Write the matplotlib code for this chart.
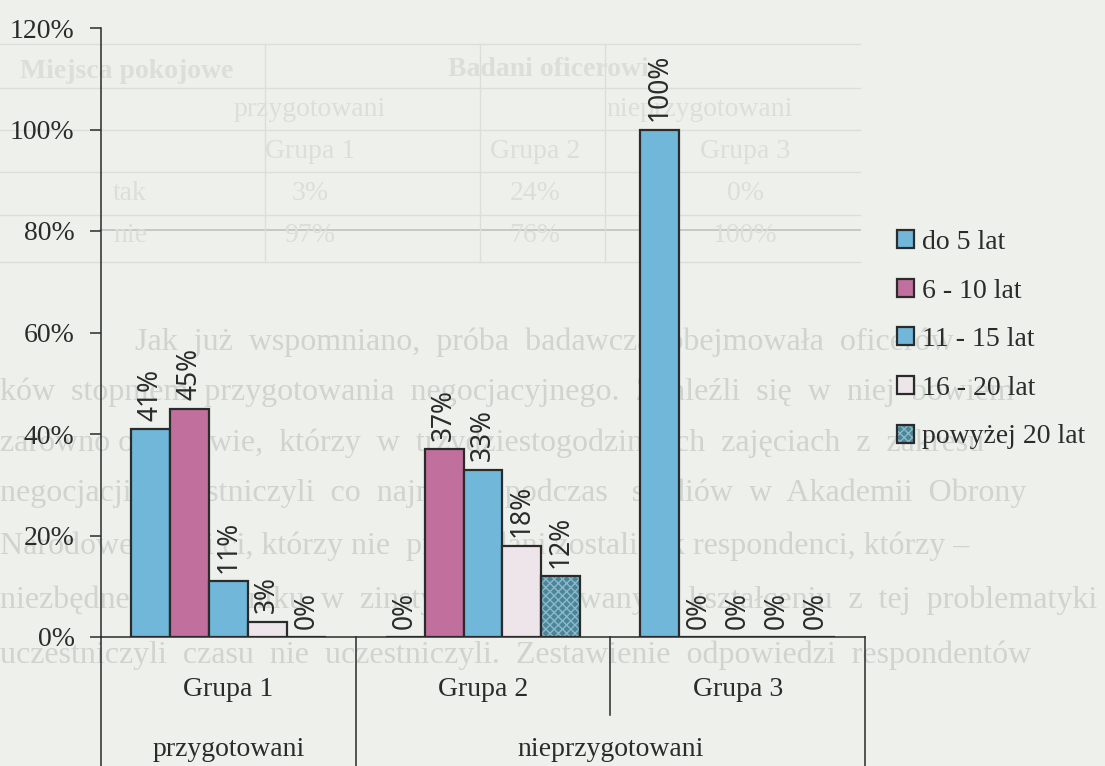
import matplotlib
matplotlib.use("Agg")
import matplotlib.pyplot as plt
import matplotlib.colors as mcolors
import numpy as np

# ---- data ----
groups = ["Grupa 1", "Grupa 2", "Grupa 3"]
supergroups = ["przygotowani", "nieprzygotowani"]
series = ["do 5 lat", "6 - 10 lat", "11 - 15 lat", "16 - 20 lat", "powyżej 20 lat"]
do_5 = [41, 0, 100]
lat_6_10 = [45, 37, 0]
lat_11_15 = [11, 33, 0]
lat_16_20 = [3, 18, 0]
pow_20 = [0, 12, 0]
yticks = [0, 20, 40, 60, 80, 100, 120]

values = [do_5, lat_6_10, lat_11_15, lat_16_20, pow_20]
colors = ["#70b7da", "#c1709e", "#70b7da", "#ede5e9", "#4a869b"]
HATCH_COLOR = "#8fb8c6"

BG = "#eef1eb"
GHOST = "#d0d4ce"
GHOST_LIGHT = "#dbdfd8"
INK = "#2b2b2b"
SERIF = "Liberation Serif"
SANS = "Noto Sans"

W, H = 1105, 766
fig = plt.figure(figsize=(W / 100, H / 100), dpi=100)
fig.patch.set_facecolor(BG)


def fx(x):
    return x / W


def fy(y):
    return 1 - y / H


# ---- faint show-through of the printed page underneath ----
tbl_kw = dict(color=GHOST_LIGHT, family=SERIF, zorder=-5, fontsize=20, va="center")
fig.text(fx(20), fy(72), "Miejsca pokojowe", weight="bold", **tbl_kw)
fig.text(fx(555), fy(70), "Badani oficerowie", weight="bold", ha="center", **tbl_kw)
fig.text(fx(310), fy(110), "przygotowani", ha="center", **tbl_kw)
fig.text(fx(700), fy(110), "nieprzygotowani", ha="center", **tbl_kw)
for x, s in [(310, "Grupa 1"), (535, "Grupa 2"), (745, "Grupa 3")]:
    fig.text(fx(x), fy(152), s, ha="center", **tbl_kw)
for x, s in [(130, "tak"), (310, "3%"), (535, "24%"), (745, "0%")]:
    fig.text(fx(x), fy(193), s, ha="center", **tbl_kw)
for x, s in [(130, "nie"), (310, "97%"), (535, "76%"), (745, "100%")]:
    fig.text(fx(x), fy(236), s, ha="center", **tbl_kw)
for y in [44, 88, 130, 172, 215, 262]:
    fig.add_artist(plt.Line2D([fx(0), fx(860)], [fy(y), fy(y)], color=GHOST_LIGHT, lw=1, zorder=-5))
fig.add_artist(plt.Line2D([fx(100), fx(860)], [fy(230), fy(230)], color="#bfc3bd", lw=1.2, zorder=-5))
for x in [265, 480, 605]:
    fig.add_artist(plt.Line2D([fx(x), fx(x)], [fy(44), fy(262)], color=GHOST_LIGHT, lw=1, zorder=-5))

para = [
    (135, 342, "Jak  już  wspomniano,  próba  badawcza  obejmowała  oficerów"),
    (0, 392, "ków  stopniem  przygotowania  negocjacyjnego.  Znaleźli  się  w  niej  bowiem"),
    (0, 443, "zarówno oficerowie,  którzy  w  trzydziestogodzinnych  zajęciach  z  zakresu"),
    (0, 493, "negocjacji  uczestniczyli  co  najmniej  podczas   studiów  w  Akademii  Obrony"),
    (0, 546, "Narodowej, jak i ci, którzy nie  przebadani zostali jak respondenci, którzy –"),
    (0, 600, "niezbędne –  w  wyniku  w  zinstytucjonalizowanym  kształceniu  z  tej  problematyki"),
    (0, 655, "uczestniczyli  czasu  nie  uczestniczyli.  Zestawienie  odpowiedzi  respondentów"),
]
for x, y, s in para:
    fig.text(fx(x), fy(y), s, fontsize=23, va="center", ha="left",
             color=GHOST, family=SERIF, zorder=-5)

# ---- chart ----
ax = fig.add_axes([fx(101), fy(637), (865 - 101) / W, (637 - 28) / H])
ax.set_zorder(1)
ax.set_facecolor("none")
ax.set_xlim(-0.5, 2.5)
ax.set_ylim(0, 120)

x = np.arange(len(groups))
bw = 0.153
handles = []
for i, (name, vals, col) in enumerate(zip(series, values, colors)):
    pos = x + (i - 2) * bw
    bars = ax.bar(pos, vals, bw, color=col, edgecolor=INK, linewidth=1.6, zorder=2,
                  hatch="xxxx" if i == 4 else None, label=name)
    if i == 4:
        # light cross-hatch on the dark fill, while keeping the dark outline
        for p in bars.patches:
            p._hatch_color = mcolors.to_rgba(HATCH_COLOR)
    handles.append(bars)
    for xp, v in zip(pos, vals):
        ax.annotate(f"{v}%", (xp, v), xytext=(0, 6), textcoords="offset points",
                    rotation=90, ha="center", va="bottom", fontsize=19,
                    family=SANS, color=INK)

# axes styling
for side in ["top", "right"]:
    ax.spines[side].set_visible(False)
for side in ["left", "bottom"]:
    ax.spines[side].set_color(INK)
    ax.spines[side].set_linewidth(1.1)
ax.set_yticks(yticks)
ax.set_yticklabels([f"{t}%" for t in yticks], family=SERIF, fontsize=20, color=INK)
ax.tick_params(axis="y", length=8, width=1.1, color=INK, pad=11)
ax.set_xticks([])

# two-level category axis
tr = ax.get_xaxis_transform()
span = 637 - 28
bottom = -(H - 637) / span
mid = -(715 - 637) / span
for b in [-0.5, 0.5, 2.5]:
    ax.plot([b, b], [0, bottom], transform=tr, color=INK, lw=1.1, clip_on=False)
ax.plot([1.5, 1.5], [0, mid], transform=tr, color=INK, lw=1.1, clip_on=False)
for xi, g in zip(x, groups):
    ax.text(xi, -(690 - 637) / span, g, transform=tr, ha="center", va="center",
            family=SERIF, fontsize=20, color=INK)
ax.text(0, -(749 - 637) / span, supergroups[0], transform=tr, ha="center",
        va="center", family=SERIF, fontsize=20, color=INK)
ax.text(1.5, -(749 - 637) / span, supergroups[1], transform=tr, ha="center",
        va="center", family=SERIF, fontsize=20, color=INK)

leg = fig.legend(handles, series, loc="upper left", bbox_to_anchor=(fx(897), fy(230)),
                 frameon=False, prop={"family": SERIF, "size": 20},
                 handlelength=0.62, handleheight=0.62, handletextpad=0.28,
                 labelspacing=0.85, borderpad=0, borderaxespad=0)
leg.set_zorder(2)
for t in leg.get_texts():
    t.set_color(INK)
for h in leg.legend_handles[4:]:
    h._hatch_color = mcolors.to_rgba(HATCH_COLOR)

fig.savefig("out.png", dpi=100, facecolor=BG)
